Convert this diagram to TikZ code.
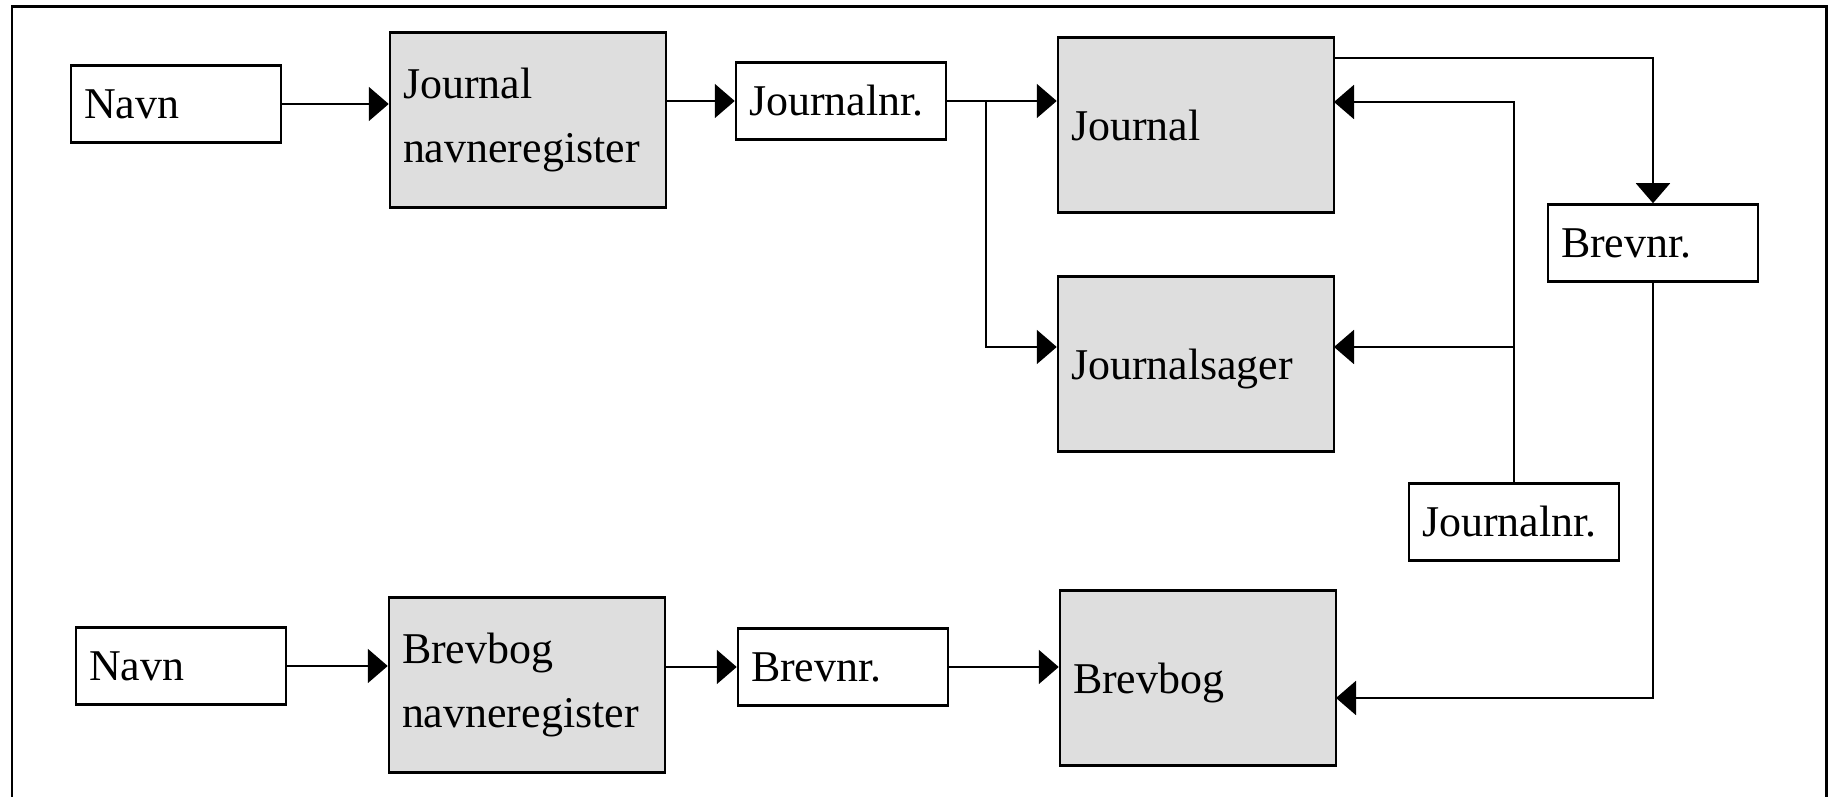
\documentclass[tikz,border=0pt]{standalone}
\usepackage{fontspec}
\setmainfont{Liberation Serif}
\usetikzlibrary{arrows.meta,positioning}
\definecolor{boxgray}{gray}{0.87}

\begin{document}
\begin{tikzpicture}[x=0.1mm,y=-0.1mm,-{Triangle[length=2mm,width=3.4mm]},line width=0.2mm]

    \tikzstyle{every node}=[font=\fontsize{12.5}{18}\selectfont]
    \tikzstyle{nrbox}=[draw=black,line width=0.25mm,text width=18.4mm,minimum height=7.7mm,inner xsep=1.3mm,align=left]
    \tikzstyle{regbox}=[nrbox,fill=boxgray,text width=25mm,minimum height=17.5mm]

    \useasboundingbox (0,0) rectangle (1830,797);
    \draw[-,line width=0.3mm] (12,797) -- (12,7) -- (1826,7) -- (1826,797);

    \node[nrbox]  (0)  at (176,104)  {Navn};
    \node[regbox] (1)  at (528,120)  {Journal\\navneregister};
    \node[nrbox]  (2)  at (841,101)  {Journalnr.};
    \node[regbox,text depth=0pt] (3)  at (1196,125) {Journal};
    \node[regbox,text depth=0pt] (4)  at (1196,364) {Journalsager};
    \node[nrbox]  (5)  at (1653,243) {Brevnr.};
    \node[nrbox]  (6)  at (1514,522) {Journalnr.};
    \node[nrbox]  (7)  at (181,666)  {Navn};
    \node[regbox] (8)  at (527,685)  {Brevbog\\navneregister};
    \node[nrbox]  (9)  at (843,667)  {Brevnr.};
    \node[regbox,text depth=0pt] (10) at (1198,678) {Brevbog};

    \coordinate (s) at (986,101);
    \coordinate (a) at (1334,58);
    \coordinate (b) at (1334,102);
    \coordinate (c) at (1334,347);
    \coordinate (d) at (1336,698);

    % journal row
    \draw (0.east) -- (1.west |- 0.east);
    \draw (1.east |- 2.west) -- (2.west);
    \draw (2.east) -- (3.west |- 2.east);
    \draw (s) |- (4.west |- c);
    \draw (a) -| (5.north);
    \draw (6.north) |- (b);
    \draw (6.north |- c) -- (c);
    \draw (5.south) |- (d);

    % brevbog row
    \draw (7.east) -- (8.west |- 7.east);
    \draw (8.east |- 9.west) -- (9.west);
    \draw (9.east) -- (10.west |- 9.east);
\end{tikzpicture}
\end{document}
